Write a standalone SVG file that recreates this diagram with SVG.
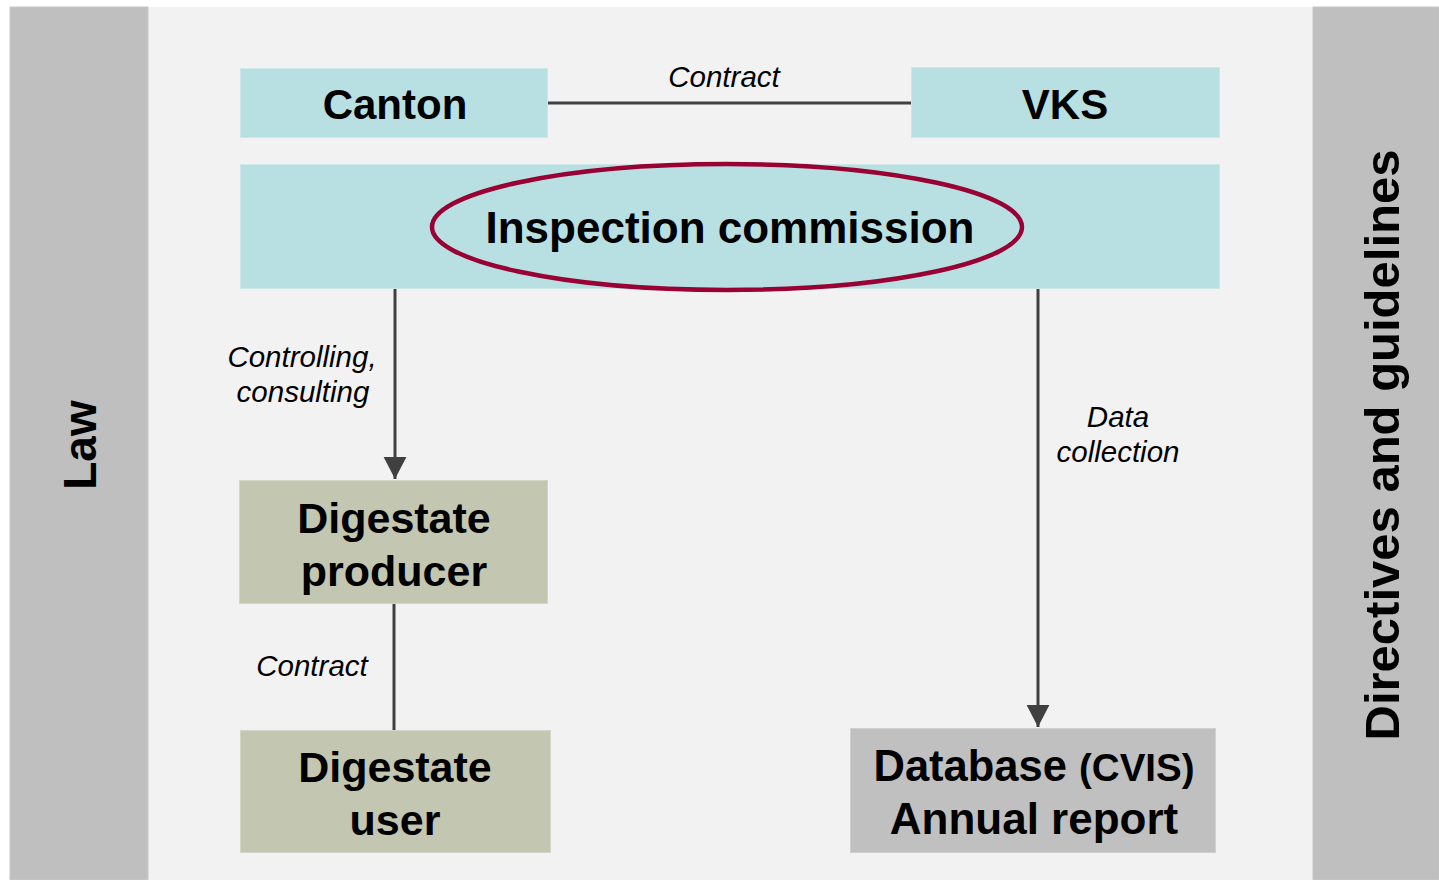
<svg xmlns="http://www.w3.org/2000/svg" width="1439" height="880" viewBox="0 0 1439 880">
<defs>
<style>
.b{font-family:"Liberation Sans",Arial,sans-serif;font-weight:bold;fill:#000;text-anchor:middle}
.l{font-family:"Liberation Sans",Arial,sans-serif;font-style:italic;fill:#000;text-anchor:middle;font-size:29.5px}
.teal{fill:#b8dfe2;stroke:#cde7e9;stroke-width:1}
.olive{fill:#c3c7b2;stroke:#d3d6c6;stroke-width:1}
.grey{fill:#c0c0c0;stroke:#d0d0d0;stroke-width:1}
.ln{stroke:#404040;stroke-width:3;fill:none}
</style>
<marker id="ah" markerWidth="8" markerHeight="8" refX="7.3" refY="4" orient="auto" markerUnits="strokeWidth">
<path d="M0,0.2 L7.3,4 L0,7.8 Z" fill="#404040"/>
</marker>
</defs>
<rect x="0" y="0" width="1439" height="880" fill="#ffffff"/>
<rect x="148" y="7" width="1165" height="873" fill="#f2f2f2"/>
<g id="law">
<rect x="10" y="7" width="138" height="873" fill="#bfbfbf" stroke="#c8c8c8" stroke-width="1"/>
<text class="b" font-size="46" transform="translate(96,445) rotate(-90)">Law</text>
</g>
<g id="directives">
<rect x="1313" y="7" width="126" height="873" fill="#bfbfbf" stroke="#c8c8c8" stroke-width="1"/>
<text class="b" font-size="49" transform="translate(1399,445) rotate(-90)">Directives and guidelines</text>
</g>
<g id="connectors">
<line class="ln" x1="548" y1="103" x2="911" y2="103" stroke-width="2.5"/>
<line class="ln" x1="395" y1="289" x2="395" y2="479" marker-end="url(#ah)"/>
<line class="ln" x1="1038" y1="289" x2="1038" y2="727" marker-end="url(#ah)"/>
<line class="ln" x1="394" y1="604" x2="394" y2="730" stroke-width="2.5"/>
<text class="l" x="724" y="87">Contract</text>
<text class="l" x="302" y="367">Controlling,</text>
<text class="l" x="303" y="402">consulting</text>
<text class="l" x="1118" y="427">Data</text>
<text class="l" x="1118" y="462">collection</text>
<text class="l" x="312" y="676">Contract</text>
</g>
<g id="canton">
<rect class="teal" x="240.5" y="68.5" width="307" height="69"/>
<text class="b" font-size="42" x="395" y="119">Canton</text>
</g>
<g id="vks">
<rect class="teal" x="911.5" y="67.5" width="308" height="70"/>
<text class="b" font-size="42" x="1065" y="119">VKS</text>
</g>
<g id="inspection">
<rect class="teal" x="240.5" y="164.5" width="979" height="124"/>
<ellipse cx="727" cy="227" rx="295" ry="63" fill="none" stroke="#990033" stroke-width="4.5"/>
<text class="b" font-size="44" x="730" y="243">Inspection commission</text>
</g>
<g id="producer">
<rect class="olive" x="239.5" y="480.5" width="308" height="123"/>
<text class="b" font-size="43" x="394" y="533">Digestate</text>
<text class="b" font-size="43" x="394" y="586">producer</text>
</g>
<g id="user">
<rect class="olive" x="240.5" y="730.5" width="310" height="122"/>
<text class="b" font-size="43" x="395" y="782">Digestate</text>
<text class="b" font-size="43" x="395" y="835">user</text>
</g>
<g id="database">
<rect class="grey" x="850.5" y="728.5" width="365" height="124"/>
<text class="b" font-size="43.5" x="1034" y="781">Database <tspan font-size="38.5">(CVIS)</tspan></text>
<text class="b" font-size="44" x="1034" y="834">Annual report</text>
</g>
</svg>
